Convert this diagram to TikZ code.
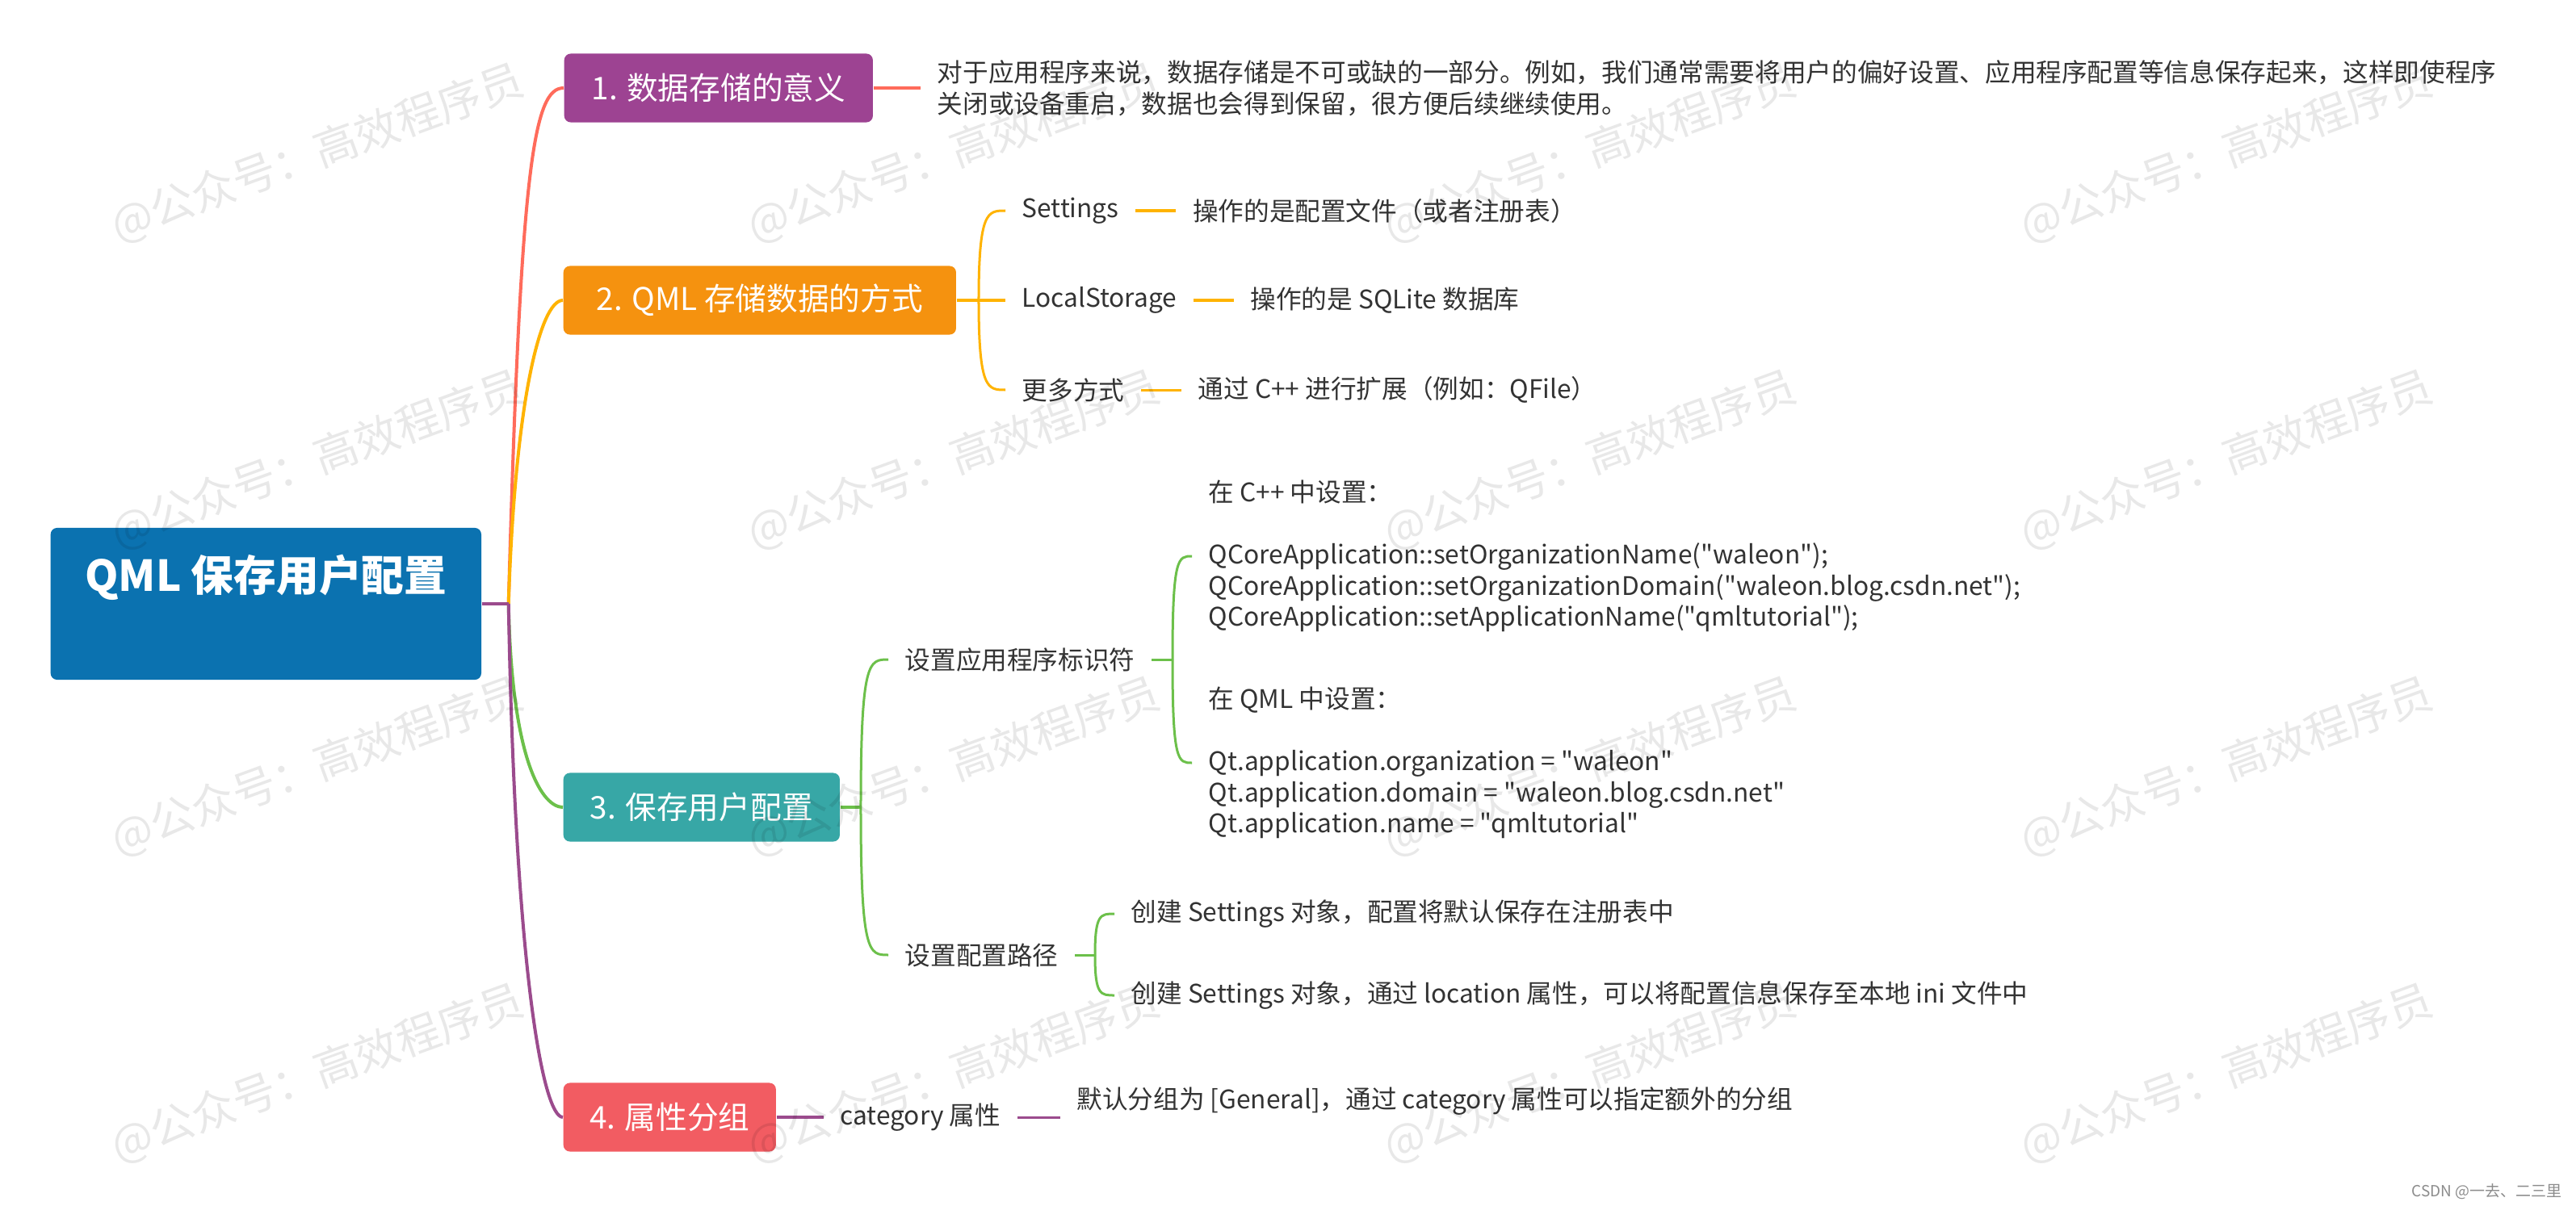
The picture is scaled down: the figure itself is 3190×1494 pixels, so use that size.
\documentclass[tikz,border=0pt]{standalone}
\usepackage{fontspec}
\setmainfont{Noto Sans CJK SC}
\newfontfamily\codefont{Noto Sans CJK SC}[Ligatures=TeXOff]
\usepackage{tikz}
\usetikzlibrary{positioning}

\definecolor{rootblue}{HTML}{0B72B0}
\definecolor{boxpurple}{HTML}{9D4392}
\definecolor{boxorange}{HTML}{F5920F}
\definecolor{boxteal}{HTML}{37A7A6}
\definecolor{boxred}{HTML}{F25C62}
\definecolor{linecoral}{HTML}{FF6B5B}
\definecolor{lineamber}{HTML}{FFB300}
\definecolor{linegreen}{HTML}{6CC04A}
\definecolor{linepurple}{HTML}{9B4B8D}
\definecolor{leafgray}{HTML}{333333}

\tikzset{
  topicbox/.style={rounded corners=0.08cm, text=white, minimum height=0.85cm,
    inner xsep=0cm, anchor=west, font=\fontsize{11pt}{13pt}\selectfont},
  leaftext/.style={text=leafgray, inner xsep=0.2cm, inner ysep=0.05cm,
    anchor=west, font=\fontsize{9pt}{10.95pt}\selectfont},
  codetext/.style={leaftext, align=left, font=\codefont\fontsize{9pt}{10.95pt}\selectfont},
  mainline/.style={line width=0.04cm},
  subline/.style={line width=0.03cm},
  wmark/.style={rotate=20, text=black, text opacity=0.09,
    font=\fontsize{15.4pt}{18pt}\selectfont}
}

\begin{document}
\begin{tikzpicture}[x=0.01cm, y=-0.01cm]
  \fill[white] (0,0) rectangle (3190,1494);
  \useasboundingbox (0,0) rectangle (3190,1494);

  % Nodes
  \node[topicbox, fill=rootblue, minimum width=5.33cm, minimum height=1.88cm,
    align=center, font=\fontsize{15pt}{18.8pt}\selectfont\bfseries] (root) at (62,748)
    {QML 保存用户配置\\[0.1cm]\mbox{}};

  \node[topicbox, fill=boxpurple, minimum width=3.82cm] (b1) at (698,109) {1. 数据存储的意义};
  \node[topicbox, fill=boxorange, minimum width=4.86cm] (b2) at (697,372) {2. QML 存储数据的方式};
  \node[topicbox, fill=boxteal, minimum width=3.42cm] (b3) at (697,1000) {3. 保存用户配置};
  \node[topicbox, fill=boxred, minimum width=2.63cm] (b4) at (697,1384) {4. 属性分组};

  % branch 1
  \node[leaftext, align=left] (para) at (1140,109)
    {对于应用程序来说，数据存储是不可或缺的一部分。例如，我们通常需要将用户的偏好设置、应用程序配置等信息保存起来，这样即使程序\\
     关闭或设备重启，数据也会得到保留，很方便后续继续使用。};

  % branch 2
  \node[leaftext] (set) at (1245,261) {Settings};
  \node[leaftext] (local) at (1245,372) {LocalStorage};
  \node[leaftext] (more) at (1245,483) {更多方式};
  \node[leaftext, right=0.5cm of set] (setd) {操作的是配置文件（或者注册表）};
  \node[leaftext, right=0.5cm of local] (locald) {操作的是 SQLite 数据库};
  \node[leaftext, right=0.5cm of more] (mored) {通过 C++ 进行扩展（例如：QFile）};

  % branch 3
  \node[leaftext] (ident) at (1100,817) {设置应用程序标识符};
  \node[leaftext] (cfgpath) at (1100,1183) {设置配置路径};
  \node[codetext] (cpp) at (1476,689)
    {在 C++ 中设置：\\[10.95pt]
     QCoreApplication::setOrganizationName("waleon");\\
     QCoreApplication::setOrganizationDomain("waleon.blog.csdn.net");\\
     QCoreApplication::setApplicationName("qmltutorial");};
  \node[codetext] (qmlset) at (1476,945)
    {在 QML 中设置：\\[10.95pt]
     Qt.application.organization = "waleon"\\
     Qt.application.domain = "waleon.blog.csdn.net"\\
     Qt.application.name = "qmltutorial"};
  \node[leaftext] (reg) at (1380,1132) {创建 Settings 对象，配置将默认保存在注册表中};
  \node[leaftext] (ini) at (1380,1233) {创建 Settings 对象，通过 location 属性，可以将配置信息保存至本地 ini 文件中};

  % branch 4
  \node[leaftext] (cat) at (1020,1384) {category 属性};
  \node[leaftext, right=0.53cm of cat, yshift=0.2cm] (dflt) {默认分组为 [General]，通过 category 属性可以指定额外的分组};

  % Edges
  \coordinate (hub) at ([xshift=0.33cm]root.east);
  \draw[mainline, linecoral] (hub) .. controls ([shift={(15,-545)}]hub) and ([xshift=-0.37cm]b1.west) .. (b1.west);
  \draw[mainline, lineamber] (hub) .. controls ([shift={(8,-250)}]hub) and ([xshift=-0.28cm]b2.west) .. (b2.west);
  \draw[mainline, linegreen] (hub) .. controls ([shift={(4,200)}]hub) and ([xshift=-0.24cm]b3.west) .. (b3.west);
  \draw[mainline, linepurple] (hub) .. controls ([shift={(8,450)}]hub) and ([xshift=-0.25cm]b4.west) .. (b4.west);
  \draw[mainline, linepurple] (root.east) -- (hub);

  \draw[mainline, linecoral] (b1.east) -- (para.west);

  \coordinate (fork2) at ([xshift=-0.33cm]set.west);
  \draw[subline, lineamber] (b2.east) -- (fork2 |- b2.east) -- (local.west);
  \draw[subline, lineamber] (fork2 |- b2.east) .. controls (fork2) and ([xshift=-0.22cm]set.west) .. (set.west);
  \draw[subline, lineamber] (fork2 |- b2.east) .. controls (fork2 |- more.west) and ([xshift=-0.22cm]more.west) .. (more.west);
  \draw[subline, lineamber] (set.east) -- (setd.west);
  \draw[subline, lineamber] (local.east) -- (locald.west);
  \draw[subline, lineamber] (more.east) -- (mored.west);

  \coordinate (fork3) at ([xshift=-0.34cm]ident.west |- b3.east);
  \draw[mainline, linegreen] (b3.east) -- (fork3);
  \draw[subline, linegreen] (fork3) .. controls (fork3 |- ident.west) and ([xshift=-0.24cm]ident.west) .. (ident.west);
  \draw[subline, linegreen] (fork3) .. controls (fork3 |- cfgpath.west) and ([xshift=-0.24cm]cfgpath.west) .. (cfgpath.west);

  \coordinate (fork31) at ([xshift=-0.24cm]cpp.west |- ident.east);
  \draw[subline, linegreen] (ident.east) -- (fork31);
  \draw[subline, linegreen] (fork31) .. controls (fork31 |- cpp.west) and ([xshift=-0.17cm]cpp.west) .. (cpp.west);
  \draw[subline, linegreen] (fork31) .. controls (fork31 |- qmlset.west) and ([xshift=-0.17cm]qmlset.west) .. (qmlset.west);

  \coordinate (fork32) at ([xshift=-0.24cm]reg.west |- cfgpath.east);
  \draw[subline, linegreen] (cfgpath.east) -- (fork32);
  \draw[subline, linegreen] (fork32) .. controls (fork32 |- reg.west) and ([xshift=-0.17cm]reg.west) .. (reg.west);
  \draw[subline, linegreen] (fork32) .. controls (fork32 |- ini.west) and ([xshift=-0.17cm]ini.west) .. (ini.west);

  \draw[mainline, linepurple] (b4.east) -- (cat.west);
  \draw[subline, linepurple] (cat.east) -- (cat.east -| dflt.west);

  % Watermarks
  \foreach \col in {0,...,3}
    \foreach \row in {0,...,3}
      \node[wmark] (wm-\col-\row) at (393+788*\col, 190+380*\row) {@公众号：高效程序员};
  \node[anchor=east, inner sep=0pt, text=black!45, font=\fontsize{5.4pt}{6pt}\selectfont] (csdn) at (3173,1476) {CSDN @一去、二三里};
\end{tikzpicture}
\end{document}
